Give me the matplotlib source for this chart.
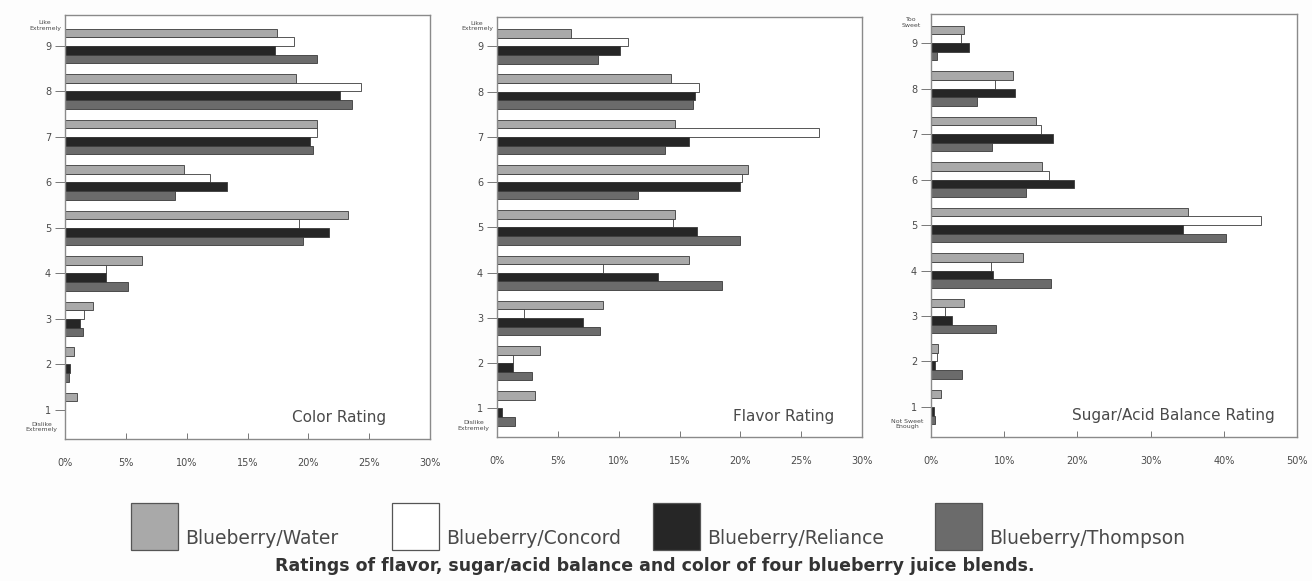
import matplotlib
matplotlib.use("Agg")
import matplotlib.pyplot as plt
import numpy as np

# rating scale, 1 (bottom) .. 9 (top)
ratings = [1, 2, 3, 4, 5, 6, 7, 8, 9]
blends = ["Blueberry/Water", "Blueberry/Concord", "Blueberry/Reliance", "Blueberry/Thompson"]

# percent of panelists giving each rating, listed for ratings 1..9
color_water = [1.0, 0.7, 2.3, 6.3, 23.3, 9.8, 20.7, 19.0, 17.4]
color_concord = [0.0, 0.0, 1.6, 3.4, 19.2, 11.9, 20.7, 24.3, 18.8]
color_reliance = [0.0, 0.4, 1.2, 3.4, 21.7, 13.3, 20.1, 22.6, 17.3]
color_thompson = [0.0, 0.3, 1.5, 5.2, 19.6, 9.0, 20.4, 23.6, 20.7]

flavor_water = [3.1, 3.5, 8.7, 15.8, 14.6, 20.6, 14.6, 14.3, 6.1]
flavor_concord = [0.0, 1.3, 2.2, 8.7, 14.5, 20.1, 26.5, 16.6, 10.8]
flavor_reliance = [0.4, 1.3, 7.1, 13.2, 16.4, 20.0, 15.8, 16.3, 10.1]
flavor_thompson = [1.5, 2.9, 8.5, 18.5, 20.0, 11.6, 13.8, 16.1, 8.3]

sugar_water = [1.4, 1.0, 4.5, 12.6, 35.1, 15.2, 14.3, 11.2, 4.5]
sugar_concord = [0.0, 0.8, 1.9, 8.2, 45.1, 16.1, 15.0, 8.8, 4.1]
sugar_reliance = [0.4, 0.6, 2.9, 8.5, 34.4, 19.5, 16.6, 11.5, 5.2]
sugar_thompson = [0.6, 4.2, 8.9, 16.4, 40.3, 13.0, 8.3, 6.3, 0.8]

x_ticks_30 = [0, 5, 10, 15, 20, 25, 30]
x_ticks_50 = [0, 10, 20, 30, 40, 50]

fills = ["#a9a9a9", "#ffffff", "#262626", "#6b6b6b"]
offsets = [0.285, 0.095, -0.095, -0.285]
bar_h = 0.19
txt = "#4a4a4a"

W, H = 1312, 581
fig = plt.figure(figsize=(W / 100, H / 100), dpi=100)
fig.patch.set_facecolor("#fdfdfd")


def px_axes(left, right, top, bottom):
    return fig.add_axes([left / W, 1 - bottom / H, (right - left) / W, (bottom - top) / H])


def panel(ax, series, xmax, xticks, title, title_x, top_lbl, bot_lbl, ylim):
    y = np.array(ratings, dtype=float)
    for vals, fc, off in zip(series, fills, offsets):
        ax.barh(y + off, vals, height=bar_h, color=fc, edgecolor="#3a3a3a", linewidth=0.6)
    ax.set_xlim(0, xmax)
    ax.set_ylim(*ylim)
    ax.set_xticks(xticks)
    ax.set_xticklabels([f"{t}%" for t in xticks], fontsize=7, color=txt)
    ax.set_yticks(ratings)
    ax.set_yticklabels([str(r) for r in ratings], fontsize=7, color=txt)
    ax.tick_params(axis="y", direction="out", length=7, width=0.7, color="#777777", pad=3)
    ax.tick_params(axis="x", direction="in", length=4, width=0.7, color="#777777", pad=14)
    for s in ax.spines.values():
        s.set_color("#8a8a8a")
        s.set_linewidth(1.0)
    ax.set_facecolor("#ffffff")
    ax.text(title_x, 0.05, title, transform=ax.transAxes, ha="right", va="center",
            fontsize=11, color=txt)
    ax.text(-0.055, 9.45, top_lbl, transform=ax.get_yaxis_transform(), ha="center",
            va="center", fontsize=4.5, color=txt, linespacing=1.1)
    ax.text(-0.065, 0.62, bot_lbl, transform=ax.get_yaxis_transform(), ha="center",
            va="center", fontsize=4.5, color=txt, linespacing=1.1)


ax1 = px_axes(65, 430, 15, 439)
panel(ax1, [color_water, color_concord, color_reliance, color_thompson], 30, x_ticks_30,
      "Color Rating", 0.88, "Like\nExtremely", "Dislike\nExtremely", (0.36, 9.68))

ax2 = px_axes(497, 862, 17, 437)
panel(ax2, [flavor_water, flavor_concord, flavor_reliance, flavor_thompson], 30, x_ticks_30,
      "Flavor Rating", 0.925, "Like\nExtremely", "Dislike\nExtremely", (0.37, 9.65))

ax3 = px_axes(931, 1297, 14, 437)
panel(ax3, [sugar_water, sugar_concord, sugar_reliance, sugar_thompson], 50, x_ticks_50,
      "Sugar/Acid Balance Rating", 0.94, "Too\nSweet", "Not Sweet\nEnough", (0.34, 9.64))

# legend row: swatches with labels sitting at their lower edge
swatch_x = [131, 392, 653, 935]
for x0, fc, name in zip(swatch_x, fills, blends):
    fig.patches.append(plt.Rectangle((x0 / W, 1 - 550 / H), 47 / W, 47 / H,
                                     transform=fig.transFigure, facecolor=fc,
                                     edgecolor="#555555", linewidth=0.9))
    fig.text((x0 + 54) / W, 1 - 538 / H, name, ha="left", va="center",
             fontsize=13.5, color=txt)

fig.text(655 / W, 1 - 566 / H,
         "Ratings of flavor, sugar/acid balance and color of four blueberry juice blends.",
         ha="center", va="center", fontsize=12.5, fontweight="bold", color="#333333")

fig.savefig("out.png", dpi=100, facecolor=fig.get_facecolor())
